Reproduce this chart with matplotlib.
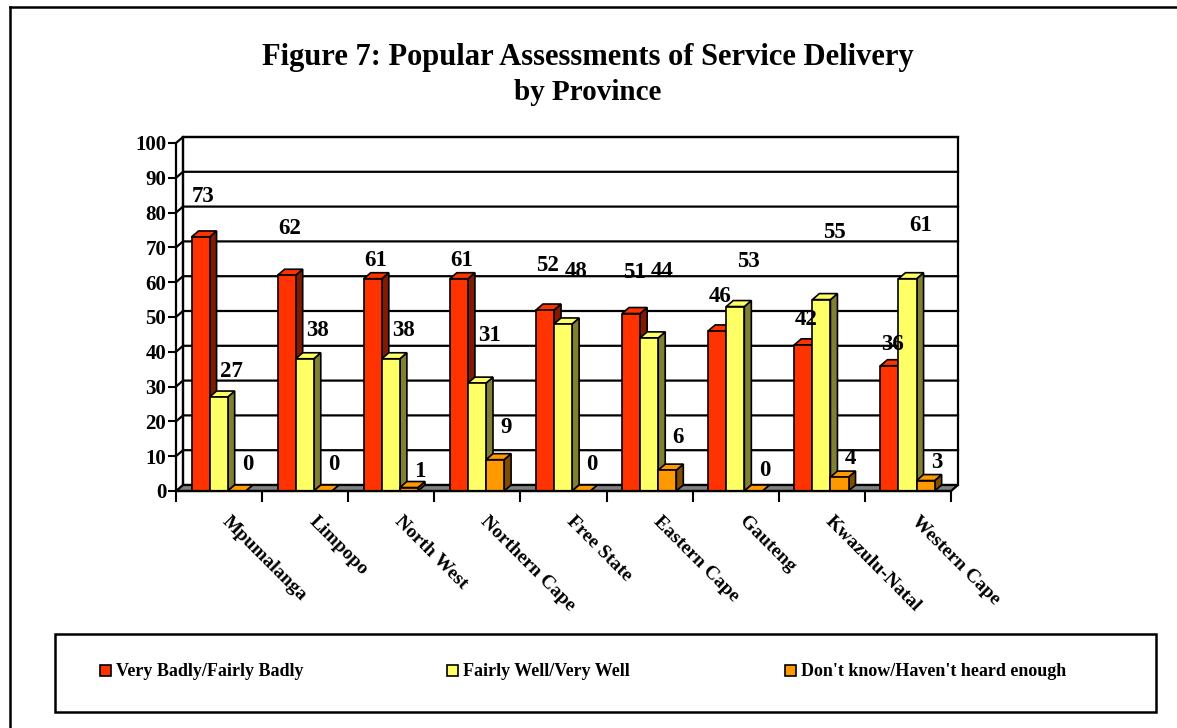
import numpy as np
import matplotlib.pyplot as plt
import matplotlib.transforms as mtransforms
from matplotlib.patches import Polygon, Rectangle
from matplotlib.lines import Line2D

provinces = ['Mpumalanga', 'Limpopo', 'North West', 'Northern Cape', 'Free State',
             'Eastern Cape', 'Gauteng', 'Kwazulu-Natal', 'Western Cape']
badly = [73, 62, 61, 61, 52, 51, 46, 42, 36]
well = [27, 38, 38, 31, 48, 44, 53, 55, 61]
dont_know = [0, 0, 1, 9, 0, 6, 0, 4, 3]
series_names = ['Very Badly/Fairly Badly', 'Fairly Well/Very Well',
                "Don't know/Haven't heard enough"]
yticks = list(range(0, 101, 10))

# label lift above bar top, in pixels (excel put them all over the place)
lift_badly = [40, 47, 18, 18, 45, 41, 34, 25, 21]
lift_well = [26, 28, 28, 48, 52, 66, 45, 67, 53]
lift_dk = [26, 26, 16, 32, 26, 33, 21, 19, 18]
shift_x = [3, 13, 11]

front_cols = ['#FF3300', '#FFFF66', '#FF9900']
side_cols = ['#801A00', '#808033', '#804D00']

W, H = 1177, 728
fig = plt.figure(figsize=(W / 100, H / 100), dpi=100)
plt.rcParams['font.family'] = ['Liberation Serif', 'DejaVu Serif']
plt.rcParams['font.weight'] = 'bold'

ax = fig.add_axes([176 / W, (H - 491) / H, 775 / W, 348 / H])
n = len(provinces)
ax.set_xlim(0, n)
ax.set_ylim(0, 100)

# depth of the fake 3d in data units
dx = 7 / (775 / n)
dy = 6 / 3.48
lw = 1.6

# back wall + gridlines
ax.add_patch(Polygon([(dx, dy), (n + dx, dy), (n + dx, 100 + dy), (dx, 100 + dy)],
                     closed=True, facecolor='white', edgecolor='black', lw=lw,
                     clip_on=False, zorder=1))
for v in yticks[1:]:
    ax.plot([0, dx, n + dx], [v, v + dy, v + dy], color='black', lw=lw,
            clip_on=False, zorder=1.5)
ax.plot([dx, dx], [dy, 100 + dy], color='black', lw=lw, clip_on=False, zorder=1.5)

# floor
ax.add_patch(Polygon([(0, 0), (n, 0), (n + dx, dy), (dx, dy)], closed=True,
                     facecolor='#808080', edgecolor='black', lw=lw,
                     clip_on=False, zorder=2))

bw = 0.21
start = 0.18
all_vals = [badly, well, dont_know]
all_lifts = [lift_badly, lift_well, lift_dk]
for i in range(n):
    for s in range(3):
        v = all_vals[s][i]
        x0 = i + start + s * bw
        x1 = x0 + bw
        z = 3 + i + s * 0.1
        # side face
        ax.add_patch(Polygon([(x1, 0), (x1 + dx, dy), (x1 + dx, v + dy), (x1, v)],
                             closed=True, facecolor=side_cols[s], edgecolor='black',
                             lw=1.2, clip_on=False, zorder=z))
        # top face
        ax.add_patch(Polygon([(x0, v), (x1, v), (x1 + dx, v + dy), (x0 + dx, v + dy)],
                             closed=True, facecolor=front_cols[s], edgecolor='black',
                             lw=1.2, clip_on=False, zorder=z))
        # front
        if v > 0:
            ax.add_patch(Rectangle((x0, 0), bw, v, facecolor=front_cols[s],
                                   edgecolor='black', lw=1.2, clip_on=False, zorder=z))
        ax.annotate(str(v), (x0 + bw / 2, v), xytext=(shift_x[s], all_lifts[s][i]),
                    textcoords='offset pixels', ha='center', va='center',
                    fontsize=16.5, fontweight='bold', zorder=20)

for sp in ['top', 'right']:
    ax.spines[sp].set_visible(False)
ax.spines['left'].set_linewidth(lw)
ax.spines['bottom'].set_linewidth(lw)
ax.spines['left'].set_zorder(30)
ax.spines['bottom'].set_zorder(30)
ax.patch.set_visible(False)

ax.set_yticks(yticks)
ax.tick_params(axis='y', length=6, width=1.5, labelsize=15, pad=1)
ax.set_xticks(np.arange(0, n + 1))
ax.set_xticklabels([])
ax.set_xticks(np.arange(n) + 0.5, minor=True)
ax.set_xticklabels(provinces, minor=True)
ax.tick_params(axis='x', which='major', length=8, width=1.5)
ax.tick_params(axis='x', which='minor', length=0, labelsize=14, pad=16)
nudge = mtransforms.ScaledTranslation(12 / 100, 0, fig.dpi_scale_trans)
for t in ax.get_xticklabels(minor=True):
    t.set_rotation(-45)
    t.set_ha('left')
    t.set_rotation_mode('anchor')
    t.set_transform(t.get_transform() + nudge)
for t in ax.get_yticklabels() + ax.get_xticklabels(minor=True):
    t.set_fontweight('bold')

# titles
fig.text(588 / W, 1 - 57 / H, 'Figure 7: Popular Assessments of Service Delivery',
         ha='center', va='center', fontsize=22, fontweight='bold')
fig.text(588 / W, 1 - 93 / H, 'by Province', ha='center', va='center',
         fontsize=21, fontweight='bold')

# legend box
fig.add_artist(Rectangle((55 / W, 1 - 712 / H), 1101 / W, 78 / H, transform=fig.transFigure,
                         facecolor='white', edgecolor='black', lw=1.8))
key_x = [100, 447, 785]
for s in range(3):
    fig.add_artist(Rectangle((key_x[s] / W, 1 - 676 / H), 11 / W, 11 / H,
                             transform=fig.transFigure, facecolor=front_cols[s],
                             edgecolor='black', lw=1.2))
    fig.text((key_x[s] + 16) / W, 1 - 671 / H, series_names[s], ha='left', va='center',
             fontsize=13, fontweight='bold')

# outer frame
fig.add_artist(Line2D([10 / W, 10 / W], [0, 1 - 7 / H], color='black', lw=1.8))
fig.add_artist(Line2D([10 / W, 1], [1 - 7 / H, 1 - 7 / H], color='black', lw=1.8))

fig.savefig('out.png', dpi=100)
